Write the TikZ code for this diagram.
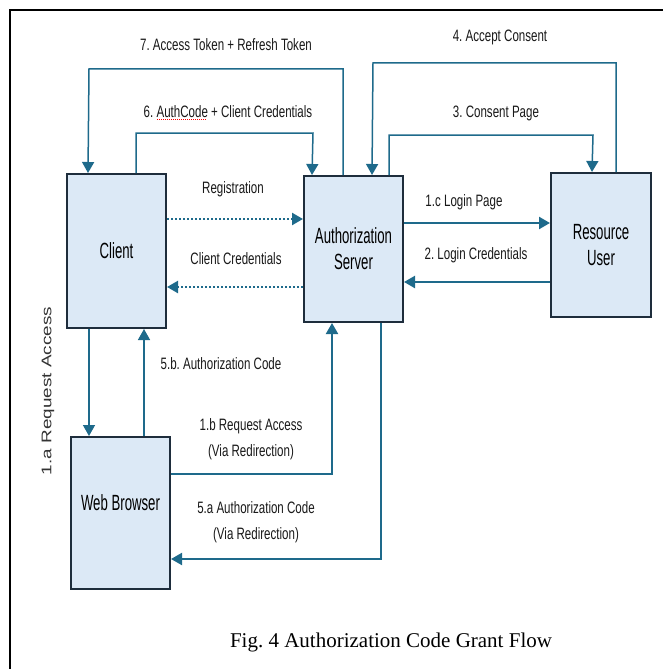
\documentclass[tikz,border=0pt]{standalone}
\usepackage{fontspec}
\setmainfont{Liberation Serif}
\newfontfamily\boxsans[FakeStretch=0.6]{Liberation Sans}
\newfontfamily\narrowsans[FakeStretch=0.7]{Liberation Sans}
\newfontfamily\plainsans{Liberation Sans}
\usetikzlibrary{arrows.meta}
\frenchspacing

\definecolor{flowblue}{HTML}{1E6A8B}
\definecolor{boxfill}{HTML}{DCE9F6}
\definecolor{boxline}{HTML}{1E2D3C}

% red dotted "spell check" underline below a word
\newsavebox\spellbox
\newcommand\spellmark[1]{\sbox\spellbox{#1}\rlap{\usebox\spellbox}%
  \raisebox{-2.5pt}{\textcolor{red}{\hbox to \wd\spellbox{\leaders\hbox to 2pt{\hss\rule{1.1pt}{0.9pt}\hss}\hfill}}}}

\begin{document}
\begin{tikzpicture}[x=1pt,y=-1pt,
  box/.style={draw=boxline, line width=2pt, fill=boxfill, minimum width=99pt,
    inner sep=0pt, align=center, font=\boxsans\fontsize{22}{26}\selectfont},
  boxtext/.style={inner sep=0pt, align=center, font=\boxsans\fontsize{22}{26}\selectfont},
  lbl/.style={inner sep=0pt, align=center, text=black!90, font=\narrowsans\fontsize{16.5}{26}\selectfont},
  tip/.style={-{Triangle[width=12pt,length=11pt]}},
  flow/.style={draw=flowblue, line width=1.5pt, tip},
  boldflow/.style={draw=flowblue, line width=2.3pt, tip},
  dots/.style={draw=flowblue, line width=2.3pt, dash pattern=on 2pt off 2pt, tip}]

\useasboundingbox (0,0) rectangle (663,669);
\clip (0,0) rectangle (663,669);

% outer frame
\draw[line width=2.5pt, black] (10,690) -- (10,10) -- (690,10);

% boxes
\node[box, minimum height=154pt] (client) at (116.5,251) {Client};
\node[box, minimum height=146pt] (as) at (353.5,249) {Authorization\\Server};
\node[box, minimum width=100pt, minimum height=144pt] (ru) at (601,245) {Resource\\User};
\node[box, minimum height=152pt] (wb) at (120.5,513) {};
\node[boxtext] (wbtext) at (120.5,503) {Web Browser};

% 7. tokens back to the client
\draw[flow] ([xshift=40pt]as.north west) |- (89,69) -- ([xshift=22pt]client.north west);
\node[lbl] (l7) at (226,45) {7. Access Token + Refresh Token};

% 6. code exchange
\draw[flow] ([xshift=70pt]client.north west) |- (313,133) -- ([xshift=9pt]as.north west);
\node[lbl] (l6) at (228,113) {6. \spellmark{AuthCode} + Client Credentials};

% 4. consent accepted
\draw[flow] ([xshift=66pt]ru.north west) |- (373,63) -- ([xshift=69pt]as.north west);
\node[lbl] (l4) at (500,37) {4. Accept Consent};

% 3. consent page
\draw[flow] ([xshift=86pt]as.north west) |- (593,135) -- ([xshift=42pt]ru.north west);
\node[lbl] (l3) at (496,113) {3. Consent Page};

% registration / client credentials
\draw[dots] ([yshift=32pt]client.east) coordinate (r1) -- (r1 -| as.west);
\node[lbl] (lreg) at (233,189) {Registration};
\draw[dots] ([yshift=-38pt]as.west) coordinate (r2) -- (r2 -| client.east);
\node[lbl] (lcc) at (236,259) {Client Credentials};

% login page / login credentials
\draw[boldflow] ([yshift=26pt]as.east) coordinate (r3) -- (r3 -| ru.west);
\node[lbl] (l1c) at (464,202) {1.c Login Page};
\draw[boldflow] ([yshift=-37pt]ru.west) coordinate (r4) -- (r4 -| as.east);
\node[lbl] (l2) at (476,255) {2. Login Credentials};

% client <-> browser
\draw[flow] ([xshift=23pt]client.south west) coordinate (r5) -- (r5 |- wb.north);
\draw[flow] ([xshift=74pt]wb.north west) coordinate (r6) -- (r6 |- client.south);
\node[lbl] (l5b) at (221,364) {5.b. Authorization Code};
\node[rotate=90, inner sep=0pt, text=black!80, font=\plainsans\fontsize{14}{16}\selectfont] (l1a)
  at (48,391) {\scalebox{1.35}[1]{1.a Request Access}};

% browser <-> authorization server
\draw[boldflow, line width=2pt] ([yshift=39pt]wb.east) -| ([xshift=29pt]as.south west);
\node[lbl] (l1b) at (251,439) {1.b Request Access\\(Via Redirection)};
\draw[boldflow, line width=2pt] ([xshift=78pt]as.south west) |- ([yshift=-46pt]wb.east);
\node[lbl] (l5a) at (256,522.5) {5.a Authorization Code\\(Via Redirection)};

% caption
\node[anchor=base, inner sep=0pt, font=\fontsize{21}{24}\selectfont] (cap) at (391,647)
  {Fig. 4 Authorization Code Grant Flow};
\end{tikzpicture}
\end{document}
